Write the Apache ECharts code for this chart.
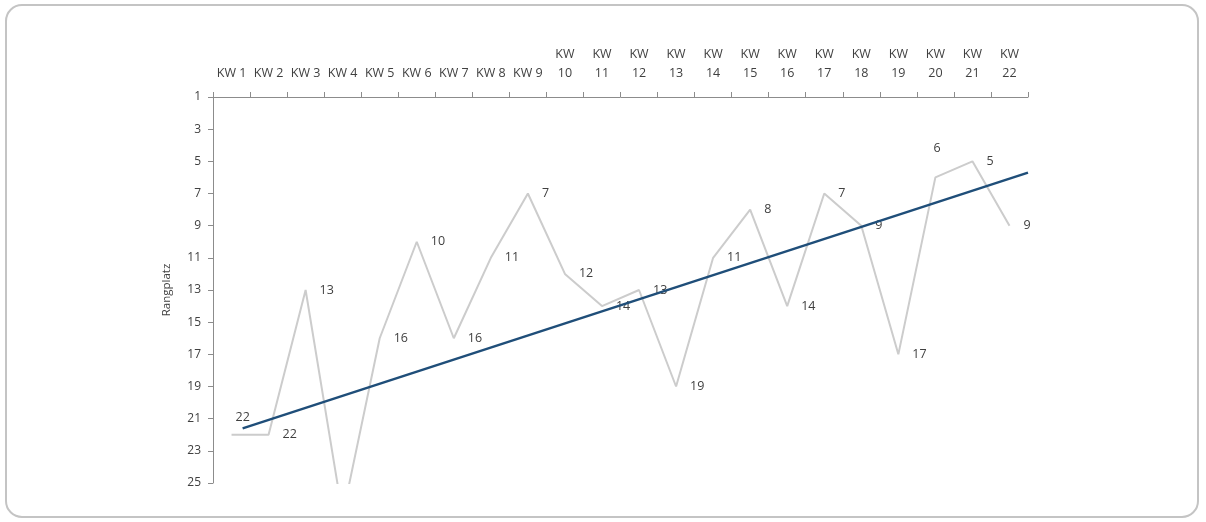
<!DOCTYPE html>
<html>
<head>
<meta charset="utf-8">
<script src="https://cdn.jsdelivr.net/npm/echarts@6/dist/echarts.min.js"></script>
<style>
html,body{margin:0;padding:0;background:#fff;}
#c{width:1206px;height:522px;}
</style>
</head>
<body>
<div id="c"></div>
<script>
// Data
const categories = ['KW 1','KW 2','KW 3','KW 4','KW 5','KW 6','KW 7','KW 8','KW 9','KW 10','KW 11','KW 12','KW 13','KW 14','KW 15','KW 16','KW 17','KW 18','KW 19','KW 20','KW 21','KW 22'];
const ranks = [22,22,13,27,16,10,16,11,7,12,14,13,19,11,8,14,7,9,17,6,5,9];
const yTicks = [1,3,5,7,9,11,13,15,17,19,21,23,25];
// Trend line endpoints: [week position, rank]
const trendPoints = [[1.3,21.6],[22.5,5.7]];
const yAxisTitle = 'Rangplatz';

const chart = echarts.init(document.getElementById('c'), null, {renderer:'canvas'});
const textColor = '#404040';
const labelPos = ranks.map((v,i)=>{
  if (i===0) return [5,-16];
  if (i===19) return [-1,-28];
  return [15,1];
});
chart.setOption({
  animation:false,
  backgroundColor:'#fff',
  graphic:[{
    type:'rect', shape:{x:6,y:5,width:1192,height:512,r:16},
    style:{fill:'none',stroke:'#c4c4c4',lineWidth:2}, silent:true, z:-1
  }],
  grid:{left:213,right:178,top:97,bottom:39,containLabel:false},
  xAxis:[{
    type:'category', position:'top', data:categories, boundaryGap:true,
    axisLine:{lineStyle:{color:'#8c8c8c',width:1}},
    axisTick:{show:true,length:5,lineStyle:{color:'#8c8c8c'},alignWithLabel:false},
    axisLabel:{interval:0,color:textColor,fontFamily:'Open Sans',fontSize:12.5,lineHeight:19,margin:14,
      formatter:(s)=> s.length>4 ? s.replace(' ','\n') : s},
    splitLine:{show:false}
  },{
    type:'value', position:'top', min:0.5, max:22.5, show:false
  }],
  yAxis:{
    type:'value', inverse:true, min:1, max:25, interval:2,
    name:yAxisTitle, nameLocation:'middle', nameGap:40, nameRotate:90,
    nameTextStyle:{color:textColor,fontFamily:'Open Sans',fontSize:11.5},
    axisLine:{show:true,lineStyle:{color:'#8c8c8c',width:1}},
    axisTick:{show:true,length:5,lineStyle:{color:'#8c8c8c'}},
    axisLabel:{color:textColor,fontFamily:'Open Sans',fontSize:12,margin:12,
      formatter:(v)=> yTicks.includes(v) ? String(v) : ''},
    splitLine:{show:false}
  },
  series:[{
    type:'line', xAxisIndex:0, data:ranks.map((v,i)=>({value:v,label:{position:labelPos[i]}})),
    symbol:'circle', symbolSize:2, showSymbol:true, itemStyle:{color:'rgba(0,0,0,0)',borderWidth:0}, clip:true,
    lineStyle:{color:'#cccccc',width:2},
    label:{show:true,color:textColor,fontFamily:'Open Sans',fontSize:12.5,align:'left',verticalAlign:'middle',
      formatter:(p)=> p.value>25 ? '' : String(p.value)},
    labelLayout:{hideOverlap:false},
    z:2
  },{
    type:'line', xAxisIndex:1, data:trendPoints, symbol:'none',
    lineStyle:{color:'#1f4e79',width:2.5}, z:3
  }]
});
</script>
</body>
</html>
